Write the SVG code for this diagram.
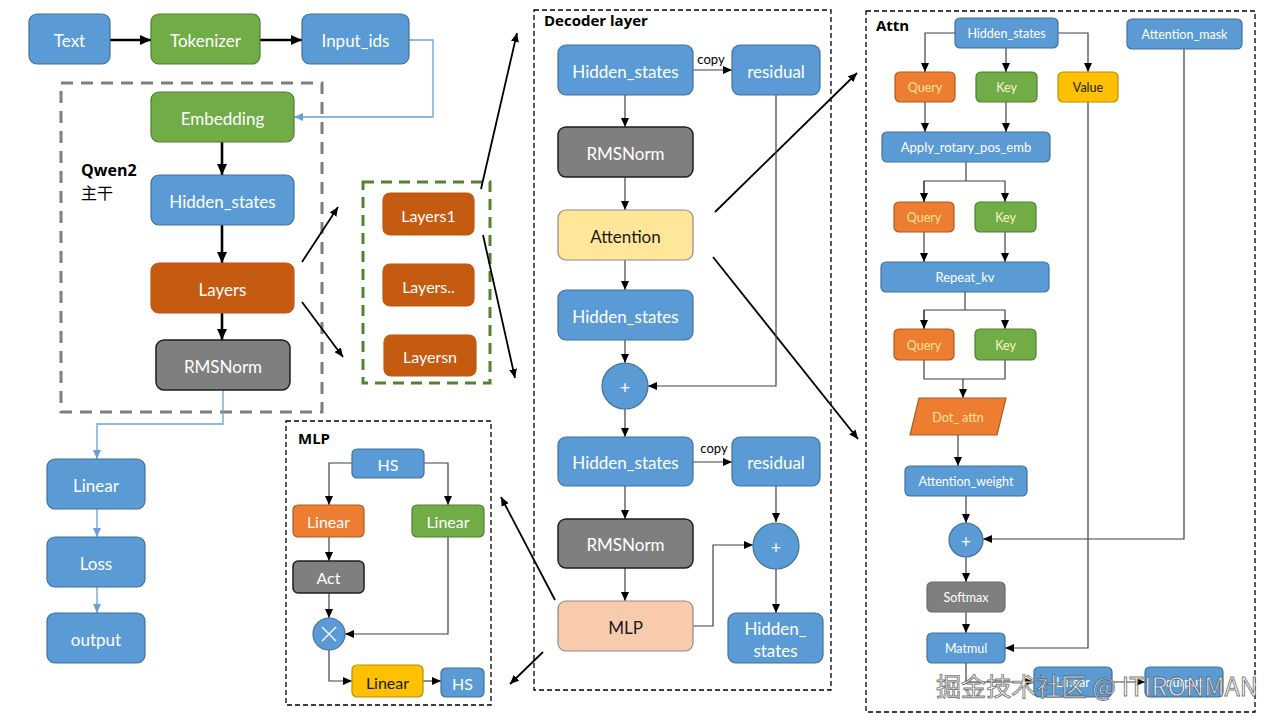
<svg xmlns="http://www.w3.org/2000/svg" width="1280" height="720" viewBox="0 0 1280 720">
<defs>
<marker id="ah" markerUnits="userSpaceOnUse" markerWidth="11" markerHeight="10" refX="11" refY="5" orient="auto"><path d="M0,0 L11,5 L0,10 z" fill="#000"/></marker>
<marker id="at" markerUnits="userSpaceOnUse" markerWidth="9" markerHeight="8" refX="9" refY="4" orient="auto"><path d="M0,0 L9,4 L0,8 z" fill="#000"/></marker>
<marker id="ab" markerUnits="userSpaceOnUse" markerWidth="9" markerHeight="8" refX="9" refY="4" orient="auto"><path d="M0,0 L9,4 L0,8 z" fill="#6A9FD8"/></marker>
</defs>
<style>
text{font-family:"Lato","Open Sans","Liberation Sans",sans-serif;text-anchor:middle;dominant-baseline:central;fill:#fff}
.blue{fill:#5B9BD5;stroke:#41719C;stroke-width:1.2}
.green{fill:#70AD47;stroke:#507E32;stroke-width:1.2}
.dorange{fill:#C55A11;stroke:#C0580F;stroke-width:1.2}
.orange{fill:#ED7D31;stroke:#AE5A21;stroke-width:1.2}
.gray{fill:#7F7F7F;stroke:#1F1F1F;stroke-width:1.5}
.lgray{fill:#7F7F7F;stroke:#6A6A6A;stroke-width:1.2}
.yellow{fill:#FFC000;stroke:#BC8C00;stroke-width:1.2}
.lyellow{fill:#FFE699;stroke:#8C8C8C;stroke-width:1.2}
.peach{fill:#F8CBAD;stroke:#8C8C8C;stroke-width:1.2}
.t17{font-size:17px}
.t16{font-size:16px}
.t13{font-size:13px}
.t12{font-size:12.5px}
.dk{fill:#1a1a1a}
.title{font-weight:bold;fill:#000;text-anchor:start;font-family:"Open Sans","Liberation Sans",sans-serif}
.thick{stroke:#000;stroke-width:2.6;fill:none}
.thin{stroke:#000;stroke-width:1.8;fill:none}
.line{stroke:#404040;stroke-width:1.2;fill:none}
.bline{stroke:#6A9FD8;stroke-width:1.3;fill:none}
.frame{fill:none;stroke:#000;stroke-width:1.3;stroke-dasharray:5 3}
</style>
<rect width="1280" height="720" fill="#fff"/>

<g id="frames">
<rect x="61" y="83" width="261" height="329" fill="none" stroke="#7F7F7F" stroke-width="3" stroke-dasharray="12 8"/>
<rect x="363" y="182" width="127" height="201" fill="none" stroke="#548235" stroke-width="3" stroke-dasharray="11 7"/>
<rect class="frame" x="534" y="10" width="297" height="680"/>
<rect class="frame" x="286" y="421" width="205" height="284"/>
<rect class="frame" x="866" y="11" width="389" height="701"/>
<text class="title" x="81" y="170" style="font-size:16px">Qwen2</text>
<text x="81" y="192" style="font-size:16px;fill:#000;text-anchor:start;font-family:'Noto Sans CJK SC',sans-serif">主干</text>
<text class="title" x="544" y="20" style="font-size:15px">Decoder layer</text>
<text class="title" x="298" y="438" style="font-size:15px">MLP</text>
<text class="title" x="876" y="25" style="font-size:15px">Attn</text>
</g>

<g id="connectors">
<path class="thick" d="M110,40 H151" marker-end="url(#ah)"/>
<path class="thick" d="M260,40 H302" marker-end="url(#ah)"/>
<path class="bline" d="M409,40 H433 V117 H294" marker-end="url(#ab)"/>
<path class="thick" d="M222,142 V175" marker-end="url(#ah)"/>
<path class="thick" d="M222,225 V263" marker-end="url(#ah)"/>
<path class="thick" d="M222,313 V340" marker-end="url(#ah)"/>
<path class="bline" d="M223,390 V424 H97 V459" marker-end="url(#ab)"/>
<path class="bline" d="M97,509 V537" marker-end="url(#ab)"/>
<path class="bline" d="M97,587 V613" marker-end="url(#ab)"/>
<path class="thin" d="M302,262 L338,207" marker-end="url(#at)"/>
<path class="thin" d="M302,302 L343,357" marker-end="url(#at)"/>
<path class="thin" d="M481,189 L517,33" marker-end="url(#at)"/>
<path class="thin" d="M483,235 L515,378" marker-end="url(#at)"/>
<path class="thin" d="M715,212 L857,73" marker-end="url(#at)"/>
<path class="thin" d="M713,257 L858,439" marker-end="url(#at)"/>
<path class="thin" d="M555,600 L501,497" marker-end="url(#at)"/>
<path class="thin" d="M543,652 L510,684" marker-end="url(#at)"/>
<!-- decoder -->
<path class="line" d="M693,70 H732" stroke="#000" marker-end="url(#at)"/>
<path class="line" d="M625,95 V127" marker-end="url(#at)"/>
<path class="line" d="M625,177 V210" marker-end="url(#at)"/>
<path class="line" d="M625,260 V290" marker-end="url(#at)"/>
<path class="line" d="M625,340 V363" marker-end="url(#at)"/>
<path class="line" d="M776,95 V386 H648" stroke="#808080" marker-end="url(#at)"/>
<path class="line" d="M625,409 V437" marker-end="url(#at)"/>
<path class="line" d="M693,462 H732" marker-end="url(#at)"/>
<path class="line" d="M625,486 V519" marker-end="url(#at)"/>
<path class="line" d="M625,568 V601" marker-end="url(#at)"/>
<path class="line" d="M776,486 V522" marker-end="url(#at)"/>
<path class="line" d="M693,626 H713 V545 H753" stroke="#606060" marker-end="url(#at)"/>
<path class="line" d="M776,569 V613" marker-end="url(#at)"/>
<!-- mlp -->
<path class="line" d="M352,463 H329 V505" marker-end="url(#at)"/>
<path class="line" d="M424,463 H448 V505" marker-end="url(#at)"/>
<path class="line" d="M329,537 V561" marker-end="url(#at)"/>
<path class="line" d="M329,593 V618" marker-end="url(#at)"/>
<path class="line" d="M448,537 V634 H345" marker-end="url(#at)"/>
<path class="line" d="M329,650 V681 H352" marker-end="url(#at)"/>
<path class="line" d="M423,681 H441" marker-end="url(#at)"/>
<!-- attn -->
<path class="line" d="M955,33 H925 V72" marker-end="url(#at)"/>
<path class="line" d="M1006,48 V72" marker-end="url(#at)"/>
<path class="line" d="M1058,33 H1088 V72" marker-end="url(#at)"/>
<path class="line" d="M925,102 V132" marker-end="url(#at)"/>
<path class="line" d="M1006,102 V132" marker-end="url(#at)"/>
<path class="line" d="M966,162 V181"/>
<path class="line" d="M924,202 V181 H1005 V202" marker-end="url(#at)"/>
<path class="line" d="M924,181 V202" marker-end="url(#at)"/>
<path class="line" d="M924,232 V262" marker-end="url(#at)"/>
<path class="line" d="M1005,232 V262" marker-end="url(#at)"/>
<path class="line" d="M965,292 V310"/>
<path class="line" d="M924,329 V310 H1005 V329" marker-end="url(#at)"/>
<path class="line" d="M924,310 V329" marker-end="url(#at)"/>
<path class="line" d="M924,360 V379 H1005 V360"/>
<path class="line" d="M963,379 V398" marker-end="url(#at)"/>
<path class="line" d="M958,435 V466" marker-end="url(#at)"/>
<path class="line" d="M966,496 V523" marker-end="url(#at)"/>
<path class="line" d="M1184,49 V539 H983" marker-end="url(#at)"/>
<path class="line" d="M966,557 V582" marker-end="url(#at)"/>
<path class="line" d="M966,612 V633" marker-end="url(#at)"/>
<path class="line" d="M1088,102 V648 H1005" marker-end="url(#at)"/>
<path class="line" d="M966,663 V682 H1034" marker-end="url(#at)"/>
<path class="line" d="M1112,682 H1145" marker-end="url(#at)"/>
</g>

<g id="n-text"><rect class="blue" x="29" y="14" width="81" height="50" rx="8"/><text class="t17" x="69.5" y="40">Text</text></g>
<g id="n-tokenizer"><rect class="green" x="151" y="14" width="109" height="50" rx="8"/><text class="t17" x="205.5" y="40">Tokenizer</text></g>
<g id="n-inputids"><rect class="blue" x="302" y="14" width="107" height="50" rx="8"/><text class="t17" x="355.5" y="40">Input_ids</text></g>
<g id="n-embedding"><rect class="green" x="151" y="92" width="143" height="50" rx="8"/><text class="t17" x="222.5" y="118">Embedding</text></g>
<g id="n-hs0"><rect class="blue" x="151" y="175" width="143" height="50" rx="8"/><text class="t17" x="222.5" y="201">Hidden_states</text></g>
<g id="n-layers"><rect class="dorange" x="151" y="263" width="143" height="50" rx="8"/><text class="t17" x="222.5" y="289">Layers</text></g>
<g id="n-rms0"><rect class="gray" x="156" y="340" width="134" height="50" rx="8"/><text class="t17" x="223" y="366">RMSNorm</text></g>
<g id="n-linear0"><rect class="blue" x="47" y="459" width="98" height="50" rx="8"/><text class="t17" x="96" y="485">Linear</text></g>
<g id="n-loss"><rect class="blue" x="47" y="537" width="98" height="50" rx="8"/><text class="t17" x="96" y="563">Loss</text></g>
<g id="n-output0"><rect class="blue" x="47" y="613" width="98" height="50" rx="8"/><text class="t17" x="96" y="639">output</text></g>

<g id="n-layers1"><rect class="dorange" x="383" y="193" width="91" height="42" rx="7"/><text class="t16" x="428.5" y="215">Layers1</text></g>
<g id="n-layersdd"><rect class="dorange" x="383" y="264" width="91" height="42" rx="7"/><text class="t16" x="428.5" y="286">Layers..</text></g>
<g id="n-layersn"><rect class="dorange" x="384" y="335" width="92" height="41" rx="7"/><text class="t16" x="430" y="356">Layersn</text></g>

<g id="n-d-hs1"><rect class="blue" x="558" y="45" width="135" height="50" rx="8"/><text class="t17" x="625.5" y="71">Hidden_states</text></g>
<g id="n-d-res1"><rect class="blue" x="732" y="45" width="88" height="50" rx="8"/><text class="t17" x="776" y="71">residual</text></g>
<text class="t13 dk" x="711" y="59" style="fill:#000">copy</text>
<g id="n-d-rms1"><rect class="gray" x="558" y="127" width="135" height="50" rx="8"/><text class="t17" x="625.5" y="153">RMSNorm</text></g>
<g id="n-d-attn"><rect class="lyellow" x="558" y="210" width="135" height="50" rx="8"/><text class="t17 dk" x="625.5" y="236">Attention</text></g>
<g id="n-d-hs2"><rect class="blue" x="558" y="290" width="135" height="50" rx="8"/><text class="t17" x="625.5" y="316">Hidden_states</text></g>
<g id="n-d-plus1"><circle cx="625" cy="386" r="23" class="blue"/><text class="t17" x="625" y="387">+</text></g>
<g id="n-d-hs3"><rect class="blue" x="558" y="437" width="135" height="49" rx="8"/><text class="t17" x="625.5" y="462">Hidden_states</text></g>
<g id="n-d-res2"><rect class="blue" x="732" y="437" width="88" height="49" rx="8"/><text class="t17" x="776" y="462">residual</text></g>
<text class="t13" x="714" y="448" style="fill:#000">copy</text>
<g id="n-d-rms2"><rect class="gray" x="558" y="519" width="135" height="49" rx="8"/><text class="t17" x="625.5" y="544">RMSNorm</text></g>
<g id="n-d-mlp"><rect class="peach" x="558" y="601" width="135" height="50" rx="8"/><text class="t17 dk" x="625.5" y="627">MLP</text></g>
<g id="n-d-plus2"><circle cx="776" cy="546" r="23" class="blue"/><text class="t17" x="776" y="547">+</text></g>
<g id="n-d-hs4"><rect class="blue" x="728" y="613" width="95" height="50" rx="8"/><text class="t17" x="775.5" y="628">Hidden_</text><text class="t17" x="775.5" y="650">states</text></g>

<g id="n-m-hs"><rect class="blue" x="352" y="449" width="72" height="29" rx="5"/><text class="t16" x="388" y="464">HS</text></g>
<g id="n-m-lin1"><rect class="orange" x="293" y="505" width="71" height="32" rx="5"/><text class="t16" x="328.5" y="521">Linear</text></g>
<g id="n-m-lin2"><rect class="green" x="412" y="505" width="72" height="32" rx="5"/><text class="t16" x="448" y="521">Linear</text></g>
<g id="n-m-act"><rect class="gray" x="293" y="561" width="71" height="32" rx="5"/><text class="t16" x="328.5" y="577">Act</text></g>
<g id="n-m-mul"><circle cx="329" cy="634" r="16" class="blue"/><path d="M322,627 L336,641 M336,627 L322,641" stroke="#fff" stroke-width="1.3"/></g>
<g id="n-m-lin3"><rect class="yellow" x="352" y="665" width="71" height="32" rx="5"/><text class="t16 dk" x="387.5" y="682">Linear</text></g>
<g id="n-m-hs2"><rect class="blue" x="441" y="668" width="43" height="29" rx="5"/><text class="t16" x="462.5" y="683">HS</text></g>

<g id="n-a-hs"><rect class="blue" x="955" y="18" width="103" height="30" rx="5"/><text class="t12" x="1006.5" y="33">Hidden_states</text></g>
<g id="n-a-mask"><rect class="blue" x="1127" y="19" width="115" height="30" rx="5"/><text class="t12" x="1184.5" y="34">Attention_mask</text></g>
<g id="n-a-q1"><rect class="orange" x="895" y="72" width="60" height="30" rx="5"/><text class="t12" style="fill:#FFE699" x="925" y="87">Query</text></g>
<g id="n-a-k1"><rect class="green" x="976" y="72" width="61" height="30" rx="5"/><text class="t12" style="fill:#FFF2CC" x="1006.5" y="87">Key</text></g>
<g id="n-a-v"><rect class="yellow" x="1058" y="72" width="60" height="30" rx="5"/><text class="t12 dk" x="1088" y="87">Value</text></g>
<g id="n-a-rot"><rect class="blue" x="882" y="132" width="168" height="30" rx="5"/><text class="t13" x="966" y="147">Apply_rotary_pos_emb</text></g>
<g id="n-a-q2"><rect class="orange" x="894" y="202" width="60" height="30" rx="5"/><text class="t12" style="fill:#FFE699" x="924" y="217">Query</text></g>
<g id="n-a-k2"><rect class="green" x="975" y="202" width="61" height="30" rx="5"/><text class="t12" style="fill:#FFF2CC" x="1005.5" y="217">Key</text></g>
<g id="n-a-rep"><rect class="blue" x="881" y="262" width="168" height="30" rx="5"/><text class="t13" x="965" y="277">Repeat_kv</text></g>
<g id="n-a-q3"><rect class="orange" x="894" y="329" width="60" height="31" rx="5"/><text class="t12" style="fill:#FFE699" x="924" y="345">Query</text></g>
<g id="n-a-k3"><rect class="green" x="975" y="329" width="61" height="31" rx="5"/><text class="t12" style="fill:#FFF2CC" x="1005.5" y="345">Key</text></g>
<g id="n-a-dot"><polygon class="orange" points="919,398 1006,398 997,435 910,435"/><text class="t12" style="fill:#FFE699" x="958" y="417">Dot_ attn</text></g>
<g id="n-a-aw"><rect class="blue" x="905" y="466" width="122" height="30" rx="5"/><text class="t12" x="966" y="481">Attention_weight</text></g>
<g id="n-a-plus"><circle cx="966" cy="540" r="17" class="blue"/><text class="t17" x="966" y="541">+</text></g>
<g id="n-a-soft"><rect class="lgray" x="927" y="582" width="78" height="30" rx="5"/><text class="t12" x="966" y="597">Softmax</text></g>
<g id="n-a-mat"><rect class="blue" x="927" y="633" width="78" height="30" rx="5"/><text class="t12" x="966" y="648">Matmul</text></g>
<g id="n-a-lin"><rect class="blue" x="1034" y="667" width="78" height="30" rx="5"/><text class="t12" x="1073" y="682">Linear</text></g>
<g id="n-a-out"><rect class="blue" x="1145" y="667" width="78" height="30" rx="5"/><text class="t12" x="1184" y="682">output</text></g>

<text x="936" y="685" textLength="322" lengthAdjust="spacingAndGlyphs" style="font-family:'Noto Sans CJK SC','Noto Sans',sans-serif;font-size:25px;text-anchor:start;fill:#fff;fill-opacity:0.85;stroke:#555;stroke-width:0.9;stroke-opacity:0.8">掘金技术社区 @ ITIRONMAN</text>
</svg>
